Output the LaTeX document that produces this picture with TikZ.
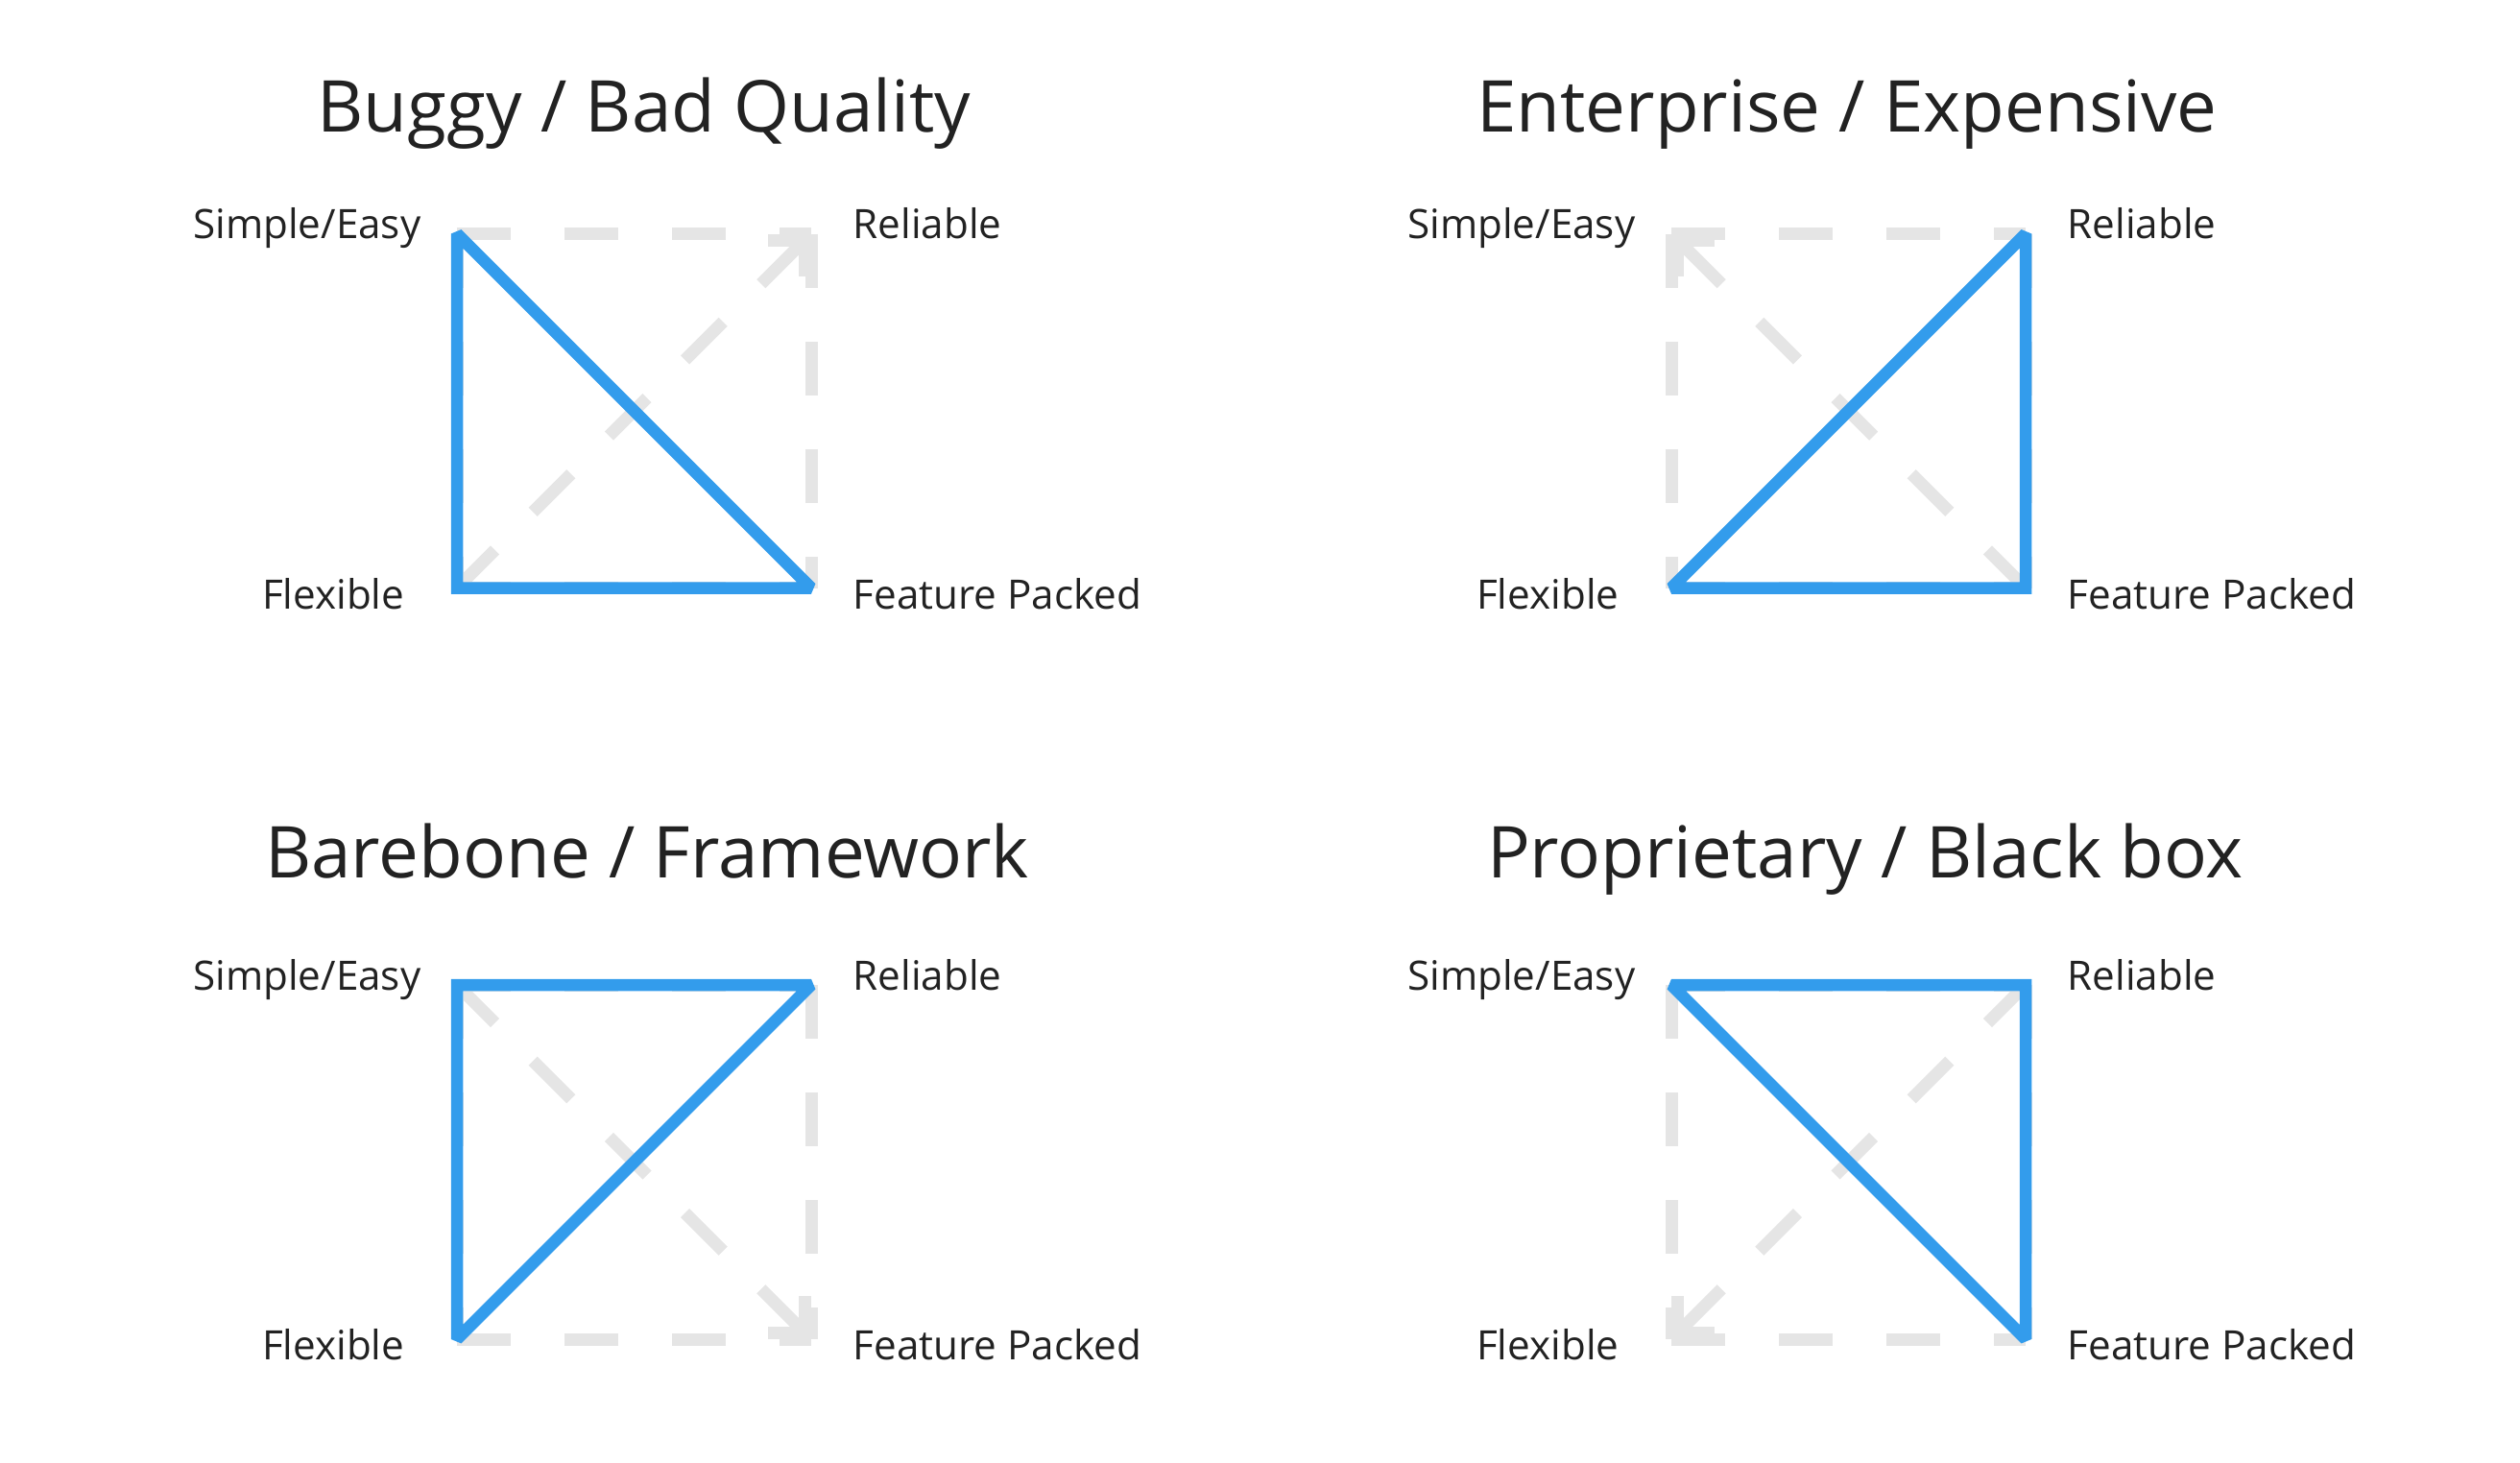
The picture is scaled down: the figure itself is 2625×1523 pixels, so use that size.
\documentclass[tikz,border=0pt]{standalone}
\usepackage{fontspec}
\setmainfont{Open Sans}
\usetikzlibrary{arrows.meta}

\definecolor{ink}{HTML}{222222}
\definecolor{pickblue}{HTML}{339CEC}
\definecolor{guidegray}{HTML}{E5E5E5}

\tikzset{
  corner label/.style={font=\fontsize{12}{14}\selectfont, text=ink, inner sep=0pt},
  panel title/.style={font=\fontsize{21.2}{26}\selectfont, text=ink, inner sep=0pt, anchor=base},
  guide/.style={draw=guidegray, line width=1.3mm, dash pattern=on 5.6mm off 5.6mm},
  guide arrow/.style={guide, -{Straight Barb[length=2.7mm, width=5.4mm]}},
  choice/.style={draw=pickblue, line width=1.25mm, line join=miter, miter limit=2},
}

\begin{document}
\begin{tikzpicture}[x=0.1mm, y=-0.1mm]
  \useasboundingbox (0,0) rectangle (2625,1523);

  % top left
  \begin{scope}[shift={(476,243.5)}]
    \coordinate (S1) at (0,0);
    \coordinate (R1) at (369,0);
    \coordinate (F1) at (0,369);
    \coordinate (P1) at (369,369);
    \node[panel title] (T1) at (195,-106) {Buggy / Bad Quality};
    \node[corner label, anchor=base east] (LS1) at ([shift={(-37,5)}]S1) {Simple/Easy};
    \node[corner label, anchor=base west] (LR1) at ([shift={(43,5)}]R1) {Reliable};
    \node[corner label, anchor=base east] (LF1) at ([shift={(-54,21.5)}]F1) {Flexible};
    \node[corner label, anchor=base west] (LP1) at ([shift={(43,21.5)}]P1) {Feature Packed};
    \draw[guide] (S1) -- (R1) (F1) -- (P1) (S1) -- (F1) (R1) -- (P1);
    \draw[guide arrow] (F1) -- (R1);
    \draw[choice] (S1) -- (F1) -- (P1) -- cycle;
  \end{scope}

  % top right
  \begin{scope}[shift={(1741,243.5)}]
    \coordinate (S2) at (0,0);
    \coordinate (R2) at (369,0);
    \coordinate (F2) at (0,369);
    \coordinate (P2) at (369,369);
    \node[panel title] (T2) at (183,-106) {Enterprise / Expensive};
    \node[corner label, anchor=base east] (LS2) at ([shift={(-37,5)}]S2) {Simple/Easy};
    \node[corner label, anchor=base west] (LR2) at ([shift={(43,5)}]R2) {Reliable};
    \node[corner label, anchor=base east] (LF2) at ([shift={(-54,21.5)}]F2) {Flexible};
    \node[corner label, anchor=base west] (LP2) at ([shift={(43,21.5)}]P2) {Feature Packed};
    \draw[guide] (S2) -- (R2) (F2) -- (P2) (S2) -- (F2) (R2) -- (P2);
    \draw[guide arrow] (P2) -- (S2);
    \draw[choice] (F2) -- (P2) -- (R2) -- cycle;
  \end{scope}

  % bottom left
  \begin{scope}[shift={(476,1026)}]
    \coordinate (S3) at (0,0);
    \coordinate (R3) at (369,0);
    \coordinate (F3) at (0,369);
    \coordinate (P3) at (369,369);
    \node[panel title] (T3) at (198,-112) {Barebone / Framework};
    \node[corner label, anchor=base east] (LS3) at ([shift={(-37,5)}]S3) {Simple/Easy};
    \node[corner label, anchor=base west] (LR3) at ([shift={(43,5)}]R3) {Reliable};
    \node[corner label, anchor=base east] (LF3) at ([shift={(-54,21.5)}]F3) {Flexible};
    \node[corner label, anchor=base west] (LP3) at ([shift={(43,21.5)}]P3) {Feature Packed};
    \draw[guide] (S3) -- (R3) (F3) -- (P3) (S3) -- (F3) (R3) -- (P3);
    \draw[guide arrow] (S3) -- (P3);
    \draw[choice] (S3) -- (R3) -- (F3) -- cycle;
  \end{scope}

  % bottom right
  \begin{scope}[shift={(1741,1026)}]
    \coordinate (S4) at (0,0);
    \coordinate (R4) at (369,0);
    \coordinate (F4) at (0,369);
    \coordinate (P4) at (369,369);
    \node[panel title] (T4) at (202,-112) {Proprietary / Black box};
    \node[corner label, anchor=base east] (LS4) at ([shift={(-37,5)}]S4) {Simple/Easy};
    \node[corner label, anchor=base west] (LR4) at ([shift={(43,5)}]R4) {Reliable};
    \node[corner label, anchor=base east] (LF4) at ([shift={(-54,21.5)}]F4) {Flexible};
    \node[corner label, anchor=base west] (LP4) at ([shift={(43,21.5)}]P4) {Feature Packed};
    \draw[guide] (S4) -- (R4) (F4) -- (P4) (S4) -- (F4) (R4) -- (P4);
    \draw[guide arrow] (R4) -- (F4);
    \draw[choice] (S4) -- (R4) -- (P4) -- cycle;
  \end{scope}
\end{tikzpicture}
\end{document}
